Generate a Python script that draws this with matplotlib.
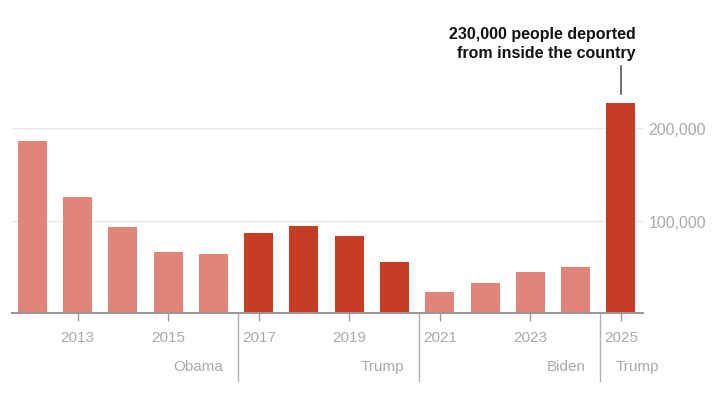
import numpy as np
import matplotlib
matplotlib.use("Agg")
import matplotlib.pyplot as plt

years = [2012, 2013, 2014, 2015, 2016, 2017, 2018, 2019, 2020, 2021, 2022, 2023, 2024, 2025]
deported = [186000, 126000, 93000, 66000, 64000, 87000, 94000, 83000, 55000, 23000, 32000, 44000, 49500, 228000]
admin = ["Obama", "Obama", "Obama", "Obama", "Obama", "Trump", "Trump", "Trump", "Trump",
         "Biden", "Biden", "Biden", "Biden", "Trump"]
tick_years = [2013, 2015, 2017, 2019, 2021, 2023, 2025]
y_ticks = [100000, 200000]

light = "#e08577"
dark = "#c63c25"
grey = "#999999"

plt.rcParams['font.family'] = ['Liberation Sans', 'DejaVu Sans']

fig = plt.figure(figsize=(7.2, 4.06), dpi=100)
ax = fig.add_axes([12 / 720, (406 - 314) / 406, 631 / 720, 219 / 406])

colors = [dark if a == "Trump" else light for a in admin]
ax.bar(years, deported, width=0.64, color=colors, zorder=2)

ax.set_xlim(2011.55, 2025.49)
ax.set_ylim(0, 237300)

for s in ["top", "left", "right"]:
    ax.spines[s].set_visible(False)
ax.spines["bottom"].set_color(grey)
ax.spines["bottom"].set_linewidth(1.5)
ax.spines["bottom"].set_zorder(3)

ax.yaxis.tick_right()
ax.set_yticks(y_ticks)
ax.set_yticklabels([f"{v:,}" for v in y_ticks])
ax.tick_params(axis="y", length=0, pad=4, labelsize=11.5, labelcolor="#aaaaaa")
ax.grid(axis="y", color="#e8e8e8", linewidth=1, zorder=0)

ax.set_xticks(tick_years)
ax.set_xticklabels([str(y) for y in tick_years])
ax.tick_params(axis="x", length=6, width=1, color=grey, pad=6, labelsize=11, labelcolor="#aaaaaa")

# administration separators and labels
tr = ax.get_xaxis_transform()
starts = [0]
for i in range(1, len(admin)):
    if admin[i] != admin[i - 1]:
        starts.append(i)
for k, i in enumerate(starts):
    if i > 0:
        xs = (years[i - 1] + years[i]) / 2 + 0.05
        ax.plot([xs, xs], [0, -0.31], transform=tr, color="#b0b0b0", lw=1, clip_on=False)
    end = starts[k + 1] if k + 1 < len(starts) else len(admin)
    if end < len(admin):
        xe = (years[end - 1] + years[end]) / 2 + 0.05
        ax.text(xe - 0.33, -0.24, admin[i], transform=tr, ha="right", va="center",
                fontsize=11, color="#aaaaaa")
    else:
        xe = (years[i - 1] + years[i]) / 2 + 0.05
        ax.text(xe + 0.33, -0.24, admin[i], transform=tr, ha="left", va="center",
                fontsize=11, color="#aaaaaa")

# annotation for 2025
ax.plot([2025, 2025], [237300, 267600], color="#555555", lw=1.2, clip_on=False)
ax.text(2025.33, 274000, "230,000 people deported\nfrom inside the country",
        ha="right", va="bottom", fontsize=11.5, fontweight="bold", color="#121212",
        linespacing=1.35)

fig.savefig("out.png", dpi=100)
